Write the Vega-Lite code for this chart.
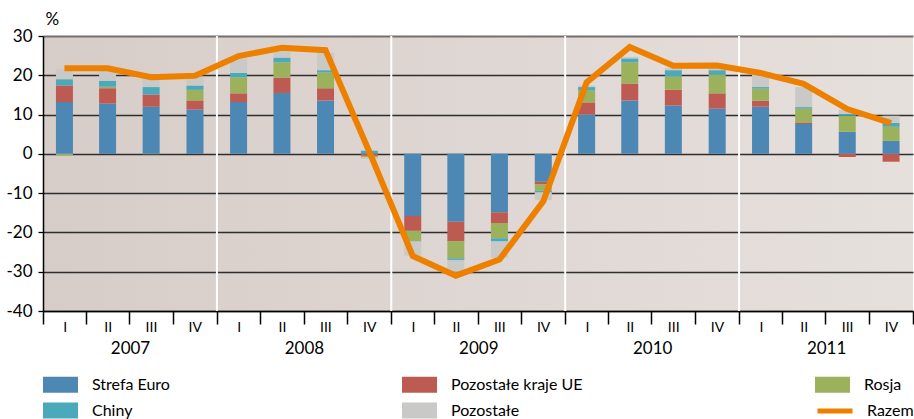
{
  "$schema": "https://vega.github.io/schema/vega-lite/v6.json",
  "width": 870,
  "height": 275,
  "autosize": {"type": "none"},
  "padding": {"left": 43, "top": 36, "right": 1, "bottom": 108},
  "background": "white",
  "config": {
    "font": "Lato",
    "view": {
      "stroke": null,
      "fill": {"gradient": "linear", "x1": 0, "y1": 0, "x2": 1, "y2": 0,
        "stops": [{"offset": 0, "color": "#d7cdc8"}, {"offset": 1, "color": "#e6e0dd"}]}
    },
    "axis": {"labelColor": "black", "titleColor": "black", "labelFont": "Lato", "titleFont": "Lato"},
    "axisY": {
      "values": [-40, -30, -20, -10, 0, 10, 20, 30],
      "labelExpr": "'' + datum.value",
      "labelOverlap": false,
      "titleAngle": 0, "titleX": 2, "titleY": -8, "titleAlign": "left", "titleBaseline": "bottom",
      "titleFontSize": 17, "titleFontWeight": "normal",
      "grid": true,
      "gridColor": {"condition": {"test": "datum.value === 30", "value": "#707070"}, "value": "#2e2e2e"},
      "gridWidth": {"condition": {"test": "datum.value === 30", "value": 2}, "value": 1.3},
      "tickSize": 5, "tickColor": "black", "tickWidth": 1.3,
      "domainColor": "black", "domainWidth": 1.5,
      "labelFontSize": 17, "labelPadding": 6
    },
    "legend": {"labelFont": "Lato", "labelColor": "black"}
  },
  "datasets": {
    "bars": [
      {"d": "2007-01-01", "s": "Strefa Euro", "v": 13.2, "k": 1}, {"d": "2007-01-01", "s": "Pozostałe kraje UE", "v": 4.2, "k": 2}, {"d": "2007-01-01", "s": "Rosja", "v": -0.3, "k": 3}, {"d": "2007-01-01", "s": "Chiny", "v": 1.6, "k": 4}, {"d": "2007-01-01", "s": "Pozostałe", "v": 2.5, "k": 5},
      {"d": "2007-04-01", "s": "Strefa Euro", "v": 12.8, "k": 1}, {"d": "2007-04-01", "s": "Pozostałe kraje UE", "v": 3.9, "k": 2}, {"d": "2007-04-01", "s": "Rosja", "v": 0.4, "k": 3}, {"d": "2007-04-01", "s": "Chiny", "v": 1.5, "k": 4}, {"d": "2007-04-01", "s": "Pozostałe", "v": 2.9, "k": 5},
      {"d": "2007-07-01", "s": "Strefa Euro", "v": 12.0, "k": 1}, {"d": "2007-07-01", "s": "Pozostałe kraje UE", "v": 3.1, "k": 2}, {"d": "2007-07-01", "s": "Rosja", "v": -0.1, "k": 3}, {"d": "2007-07-01", "s": "Chiny", "v": 1.9, "k": 4}, {"d": "2007-07-01", "s": "Pozostałe", "v": 2.2, "k": 5},
      {"d": "2007-10-01", "s": "Strefa Euro", "v": 11.3, "k": 1}, {"d": "2007-10-01", "s": "Pozostałe kraje UE", "v": 2.3, "k": 2}, {"d": "2007-10-01", "s": "Rosja", "v": 2.7, "k": 3}, {"d": "2007-10-01", "s": "Chiny", "v": 1.1, "k": 4}, {"d": "2007-10-01", "s": "Pozostałe", "v": 2.2, "k": 5},
      {"d": "2008-01-01", "s": "Strefa Euro", "v": 13.2, "k": 1}, {"d": "2008-01-01", "s": "Pozostałe kraje UE", "v": 2.2, "k": 2}, {"d": "2008-01-01", "s": "Rosja", "v": 4.1, "k": 3}, {"d": "2008-01-01", "s": "Chiny", "v": 1.1, "k": 4}, {"d": "2008-01-01", "s": "Pozostałe", "v": 3.6, "k": 5},
      {"d": "2008-04-01", "s": "Strefa Euro", "v": 15.5, "k": 1}, {"d": "2008-04-01", "s": "Pozostałe kraje UE", "v": 3.9, "k": 2}, {"d": "2008-04-01", "s": "Rosja", "v": 3.9, "k": 3}, {"d": "2008-04-01", "s": "Chiny", "v": 1.2, "k": 4}, {"d": "2008-04-01", "s": "Pozostałe", "v": 2.1, "k": 5},
      {"d": "2008-07-01", "s": "Strefa Euro", "v": 13.6, "k": 1}, {"d": "2008-07-01", "s": "Pozostałe kraje UE", "v": 3.1, "k": 2}, {"d": "2008-07-01", "s": "Rosja", "v": 4.0, "k": 3}, {"d": "2008-07-01", "s": "Chiny", "v": 0.6, "k": 4}, {"d": "2008-07-01", "s": "Pozostałe", "v": 4.4, "k": 5},
      {"d": "2008-10-01", "s": "Strefa Euro", "v": 0.2, "k": 1}, {"d": "2008-10-01", "s": "Pozostałe kraje UE", "v": -0.5, "k": 2}, {"d": "2008-10-01", "s": "Rosja", "v": -0.4, "k": 3}, {"d": "2008-10-01", "s": "Chiny", "v": 0.6, "k": 4}, {"d": "2008-10-01", "s": "Pozostałe", "v": -0.4, "k": 5},
      {"d": "2009-01-01", "s": "Strefa Euro", "v": -15.8, "k": 1}, {"d": "2009-01-01", "s": "Pozostałe kraje UE", "v": -3.8, "k": 2}, {"d": "2009-01-01", "s": "Rosja", "v": -2.6, "k": 3}, {"d": "2009-01-01", "s": "Chiny", "v": -0.1, "k": 4}, {"d": "2009-01-01", "s": "Pozostałe", "v": -3.6, "k": 5},
      {"d": "2009-04-01", "s": "Strefa Euro", "v": -17.3, "k": 1}, {"d": "2009-04-01", "s": "Pozostałe kraje UE", "v": -4.9, "k": 2}, {"d": "2009-04-01", "s": "Rosja", "v": -4.4, "k": 3}, {"d": "2009-04-01", "s": "Chiny", "v": -0.4, "k": 4}, {"d": "2009-04-01", "s": "Pozostałe", "v": -2.9, "k": 5},
      {"d": "2009-07-01", "s": "Strefa Euro", "v": -14.9, "k": 1}, {"d": "2009-07-01", "s": "Pozostałe kraje UE", "v": -2.7, "k": 2}, {"d": "2009-07-01", "s": "Rosja", "v": -3.9, "k": 3}, {"d": "2009-07-01", "s": "Chiny", "v": -0.8, "k": 4}, {"d": "2009-07-01", "s": "Pozostałe", "v": -4.2, "k": 5},
      {"d": "2009-10-01", "s": "Strefa Euro", "v": -7.1, "k": 1}, {"d": "2009-10-01", "s": "Pozostałe kraje UE", "v": -0.7, "k": 2}, {"d": "2009-10-01", "s": "Rosja", "v": -1.6, "k": 3}, {"d": "2009-10-01", "s": "Chiny", "v": -0.4, "k": 4}, {"d": "2009-10-01", "s": "Pozostałe", "v": -2.0, "k": 5},
      {"d": "2010-01-01", "s": "Strefa Euro", "v": 10.0, "k": 1}, {"d": "2010-01-01", "s": "Pozostałe kraje UE", "v": 3.1, "k": 2}, {"d": "2010-01-01", "s": "Rosja", "v": 3.0, "k": 3}, {"d": "2010-01-01", "s": "Chiny", "v": 0.9, "k": 4}, {"d": "2010-01-01", "s": "Pozostałe", "v": 0.4, "k": 5},
      {"d": "2010-04-01", "s": "Strefa Euro", "v": 13.6, "k": 1}, {"d": "2010-04-01", "s": "Pozostałe kraje UE", "v": 4.3, "k": 2}, {"d": "2010-04-01", "s": "Rosja", "v": 5.4, "k": 3}, {"d": "2010-04-01", "s": "Chiny", "v": 1.0, "k": 4}, {"d": "2010-04-01", "s": "Pozostałe", "v": 0.4, "k": 5},
      {"d": "2010-07-01", "s": "Strefa Euro", "v": 12.3, "k": 1}, {"d": "2010-07-01", "s": "Pozostałe kraje UE", "v": 4.0, "k": 2}, {"d": "2010-07-01", "s": "Rosja", "v": 3.4, "k": 3}, {"d": "2010-07-01", "s": "Chiny", "v": 1.6, "k": 4}, {"d": "2010-07-01", "s": "Pozostałe", "v": 0.5, "k": 5},
      {"d": "2010-10-01", "s": "Strefa Euro", "v": 11.5, "k": 1}, {"d": "2010-10-01", "s": "Pozostałe kraje UE", "v": 3.9, "k": 2}, {"d": "2010-10-01", "s": "Rosja", "v": 4.7, "k": 3}, {"d": "2010-10-01", "s": "Chiny", "v": 1.2, "k": 4}, {"d": "2010-10-01", "s": "Pozostałe", "v": 0.5, "k": 5},
      {"d": "2011-01-01", "s": "Strefa Euro", "v": 12.0, "k": 1}, {"d": "2011-01-01", "s": "Pozostałe kraje UE", "v": 1.5, "k": 2}, {"d": "2011-01-01", "s": "Rosja", "v": 3.1, "k": 3}, {"d": "2011-01-01", "s": "Chiny", "v": 0.4, "k": 4}, {"d": "2011-01-01", "s": "Pozostałe", "v": 3.2, "k": 5},
      {"d": "2011-04-01", "s": "Strefa Euro", "v": 7.6, "k": 1}, {"d": "2011-04-01", "s": "Pozostałe kraje UE", "v": 0.4, "k": 2}, {"d": "2011-04-01", "s": "Rosja", "v": 3.5, "k": 3}, {"d": "2011-04-01", "s": "Chiny", "v": 0.4, "k": 4}, {"d": "2011-04-01", "s": "Pozostałe", "v": 5.1, "k": 5},
      {"d": "2011-07-01", "s": "Strefa Euro", "v": 5.6, "k": 1}, {"d": "2011-07-01", "s": "Pozostałe kraje UE", "v": -0.8, "k": 2}, {"d": "2011-07-01", "s": "Rosja", "v": 4.1, "k": 3}, {"d": "2011-07-01", "s": "Chiny", "v": 0.5, "k": 4}, {"d": "2011-07-01", "s": "Pozostałe", "v": 1.0, "k": 5},
      {"d": "2011-10-01", "s": "Strefa Euro", "v": 3.3, "k": 1}, {"d": "2011-10-01", "s": "Pozostałe kraje UE", "v": -2.0, "k": 2}, {"d": "2011-10-01", "s": "Rosja", "v": 3.6, "k": 3}, {"d": "2011-10-01", "s": "Chiny", "v": 1.0, "k": 4}, {"d": "2011-10-01", "s": "Pozostałe", "v": 1.8, "k": 5}
    ],
    "total": [
      {"d": "2007-01-01", "s": "Razem", "v": 21.8}, {"d": "2007-04-01", "s": "Razem", "v": 21.8}, {"d": "2007-07-01", "s": "Razem", "v": 19.5}, {"d": "2007-10-01", "s": "Razem", "v": 19.9},
      {"d": "2008-01-01", "s": "Razem", "v": 24.9}, {"d": "2008-04-01", "s": "Razem", "v": 27.0}, {"d": "2008-07-01", "s": "Razem", "v": 26.4}, {"d": "2008-10-01", "s": "Razem", "v": 0.5},
      {"d": "2009-01-01", "s": "Razem", "v": -26.0}, {"d": "2009-04-01", "s": "Razem", "v": -31.0}, {"d": "2009-07-01", "s": "Razem", "v": -26.9}, {"d": "2009-10-01", "s": "Razem", "v": -12.1},
      {"d": "2010-01-01", "s": "Razem", "v": 18.2}, {"d": "2010-04-01", "s": "Razem", "v": 27.2}, {"d": "2010-07-01", "s": "Razem", "v": 22.4}, {"d": "2010-10-01", "s": "Razem", "v": 22.5},
      {"d": "2011-01-01", "s": "Razem", "v": 20.6}, {"d": "2011-04-01", "s": "Razem", "v": 17.8}, {"d": "2011-07-01", "s": "Razem", "v": 11.4}, {"d": "2011-10-01", "s": "Razem", "v": 7.8}
    ],
    "years": [{"d": "2008-01-01"}, {"d": "2009-01-01"}, {"d": "2010-01-01"}, {"d": "2011-01-01"}]
  },
  "layer": [
    {
      "data": {"name": "years"},
      "mark": {"type": "rule", "color": "white", "strokeWidth": 2},
      "encoding": {
        "x": {
          "field": "d", "type": "temporal",
          "scale": {"type": "utc", "domain": [{"year": 2007, "month": 1, "date": 1, "utc": true}, {"year": 2012, "month": 1, "date": 1, "utc": true}], "nice": false},
          "axis": {
            "orient": "bottom", "title": null, "grid": false, "ticks": false, "domain": false,
            "tickCount": {"interval": "year", "step": 1},
            "labelExpr": "utcyear(datum.value) > 2011 ? '' : '' + utcyear(datum.value)",
            "labelOffset": 87, "labelPadding": 29, "labelFontSize": 17,
            "labelOverlap": false, "labelBound": false, "labelFlush": false
          }
        }
      }
    },
    {
      "data": {"name": "bars"},
      "mark": {"type": "bar", "width": 17},
      "encoding": {
        "x": {
          "field": "d", "type": "temporal", "timeUnit": "utcyearquarter", "bandPosition": 0.5,
          "scale": {"type": "utc", "domain": [{"year": 2007, "month": 1, "date": 1, "utc": true}, {"year": 2012, "month": 1, "date": 1, "utc": true}], "nice": false},
          "axis": {
            "orient": "bottom", "title": null, "grid": false,
            "tickCount": {"interval": "month", "step": 3},
            "tickSize": 13, "tickColor": "black", "tickWidth": 1.5,
            "domain": true, "domainColor": "black", "domainWidth": 1.5,
            "labelExpr": "utcyear(datum.value) > 2011 ? '' : ['I','II','III','IV'][floor(utcmonth(datum.value)/3)]",
            "labelOffset": 21.75, "labelPadding": -4, "labelFontSize": 14,
            "labelOverlap": false, "labelBound": false, "labelFlush": false
          }
        },
        "y": {
          "field": "v", "type": "quantitative", "stack": "zero",
          "scale": {"domain": [-40, 30], "nice": false, "zero": false},
          "axis": {"title": "%", "titleAngle": 0, "titleX": 2, "titleY": -8, "titleAlign": "left", "titleBaseline": "bottom"}
        },
        "color": {
          "field": "s", "type": "nominal",
          "scale": {
            "domain": ["Strefa Euro", "Pozostałe kraje UE", "Rosja", "Chiny", "Pozostałe"],
            "range": ["#4d87b4", "#bd5b53", "#9cb15b", "#4aa9bb", "#c9c9c7"]
          },
          "legend": {
            "orient": "none", "legendX": 0, "legendY": 331, "direction": "horizontal", "columns": 3,
            "columnPadding": 232, "rowPadding": -5, "padding": 0,
            "symbolType": "M-1,-0.46H1V0.46H-1Z", "symbolSize": 1225, "symbolStrokeWidth": 0, "symbolOpacity": 1,
            "labelFontSize": 16, "labelOffset": 14, "title": null
          }
        },
        "order": {"field": "k", "type": "quantitative"}
      }
    },
    {
      "data": {"name": "total"},
      "mark": {"type": "line", "strokeWidth": 6},
      "encoding": {
        "x": {"field": "d", "type": "temporal", "timeUnit": "utcyearquarter", "bandPosition": 0.5, "scale": {"type": "utc"}, "axis": null},
        "y": {"field": "v", "type": "quantitative", "axis": {"title": "%", "titleAngle": 0, "titleX": 2, "titleY": -8, "titleAlign": "left", "titleBaseline": "bottom"}},
        "stroke": {
          "field": "s", "type": "nominal",
          "scale": {"domain": ["Razem"], "range": ["#ee8000"]},
          "legend": {
            "orient": "none", "legendX": 772, "legendY": 355, "padding": 0,
            "symbolType": "stroke", "symbolSize": 1225, "symbolStrokeWidth": 5,
            "labelFontSize": 16, "labelOffset": 12, "title": null
          }
        }
      }
    }
  ],
  "resolve": {"axis": {"x": "independent"}, "scale": {"x": "shared"}}
}
